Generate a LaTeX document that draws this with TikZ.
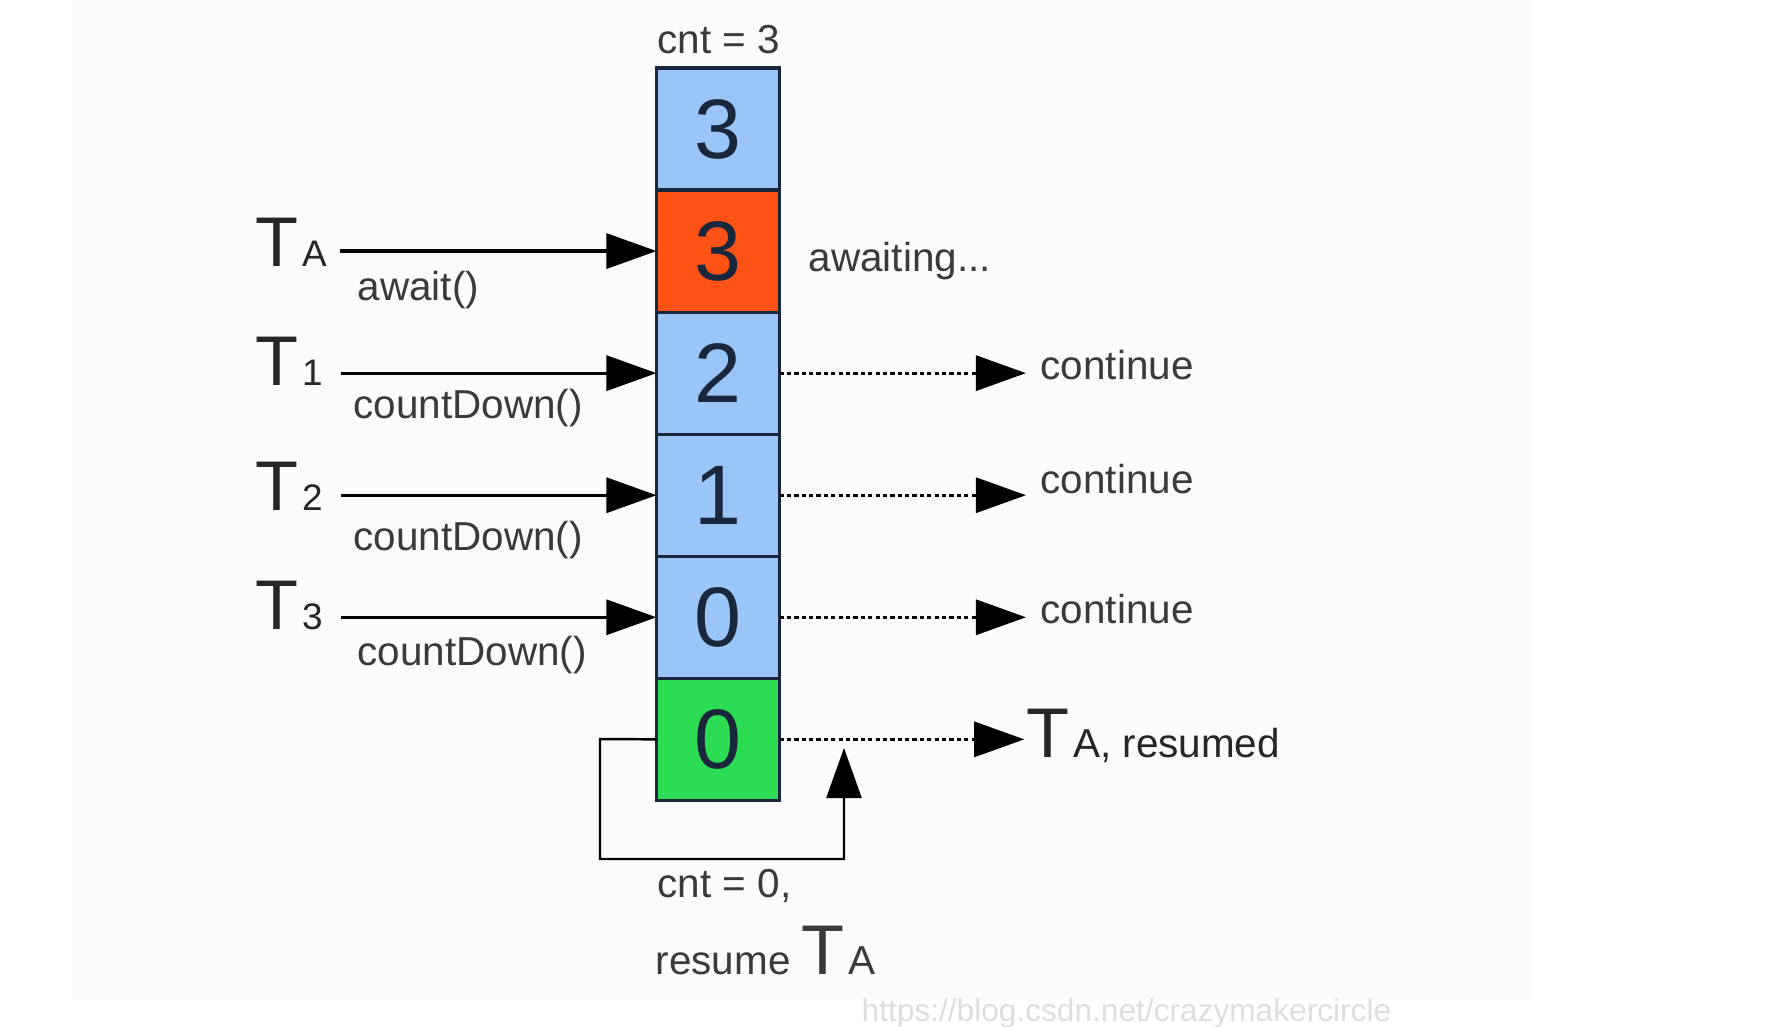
\documentclass[tikz,border=0pt]{standalone}
\usepackage{fontspec}
\setmainfont{Liberation Sans}
\usepackage{tikz}
\definecolor{cellblue}{RGB}{153,197,248}
\definecolor{cellred}{RGB}{255,82,22}
\definecolor{cellgreen}{RGB}{44,220,82}
\definecolor{txt}{RGB}{58,58,58}
\definecolor{digit}{RGB}{25,38,60}
\definecolor{mark}{RGB}{222,222,222}
\definecolor{paper}{RGB}{251,251,251}
\usetikzlibrary{arrows.meta,positioning}
\newcommand{\thr}[2][10.5]{{\fontsize{20}{20}\selectfont T}\kern1pt{\fontsize{#1}{#1}\selectfont #2}}

\begin{document}
\begin{tikzpicture}[x=0.01cm,y=-0.01cm,
        cell/.style={draw=digit,line width=0.9pt,minimum width=1.23cm,minimum height=1.22cm,
            inner sep=0pt,outer sep=0pt,text=digit,font=\fontsize{24}{24}\selectfont},
        lab/.style={anchor=base west,inner sep=0pt,text=txt,font=\fontsize{11.5}{12}\selectfont},
        arr/.style={line width=0.9pt,-{Triangle[length=5mm,width=3.5mm]}},
        dotarr/.style={arr,dash pattern=on 1.2pt off 0.9pt}]
        \useasboundingbox (0,0) rectangle (1775,1027);
        \fill[paper] (72,0) rectangle (1530,1000);

        \node[cell,fill=cellblue] (c1) at (718,129) {3};
        \node[cell,fill=cellred,below=0pt of c1] (c2) {3};
        \node[cell,fill=cellblue,below=0pt of c2] (c3) {2};
        \node[cell,fill=cellblue,below=0pt of c3] (c4) {1};
        \node[cell,fill=cellblue,below=0pt of c4] (c5) {0};
        \node[cell,fill=cellgreen,below=0pt of c5] (c6) {0};

        \node[lab,anchor=base] (cnt3) at (719,53) {cnt = 3};

        \node[lab,text=black!85] (ta) at (255,266) {\thr{A}};
        \node[lab,text=black!85] (t1) at (255,385) {\thr{1}};
        \node[lab,text=black!85] (t2) at (255,510) {\thr{2}};
        \node[lab,text=black!85] (t3) at (255,629) {\thr{3}};

        \node[lab] (aw) at (357,300) {await()};
        \node[lab] (cd1) at (353,418) {countDown()};
        \node[lab] (cd2) at (353,550) {countDown()};
        \node[lab] (cd3) at (357,665) {countDown()};

        \draw[arr,shorten <=3.5pt] (ta.east |- c2) -- (c2.west);
        \draw[arr,shorten <=5pt] (t1.east |- c3) -- (c3.west);
        \draw[arr,shorten <=5pt] (t2.east |- c4) -- (c4.west);
        \draw[arr,shorten <=5pt] (t3.east |- c5) -- (c5.west);

        \node[lab] (wait) at (808,271) {awaiting...};
        \node[lab] (go1) at (1040,379) {continue};
        \node[lab] (go2) at (1040,493) {continue};
        \node[lab] (go3) at (1040,623) {continue};
        \node[lab,text=black!85] (tres) at (1026,757) {\thr[11.5]{A, resumed}};

        \draw[dotarr,shorten >=4pt] (c3.east) -- (c3.east -| go1.west);
        \draw[dotarr,shorten >=4pt] (c4.east) -- (c4.east -| go2.west);
        \draw[dotarr,shorten >=4pt] (c5.east) -- (c5.east -| go3.west);
        \draw[dotarr,shorten >=0.5pt] (c6.east) -- (c6.east -| tres.west);

        % loop back under the last cell
        \coordinate (up) at (844,748);
        \draw[arr,line width=0.7pt] (c6.west) -- (600,739) -- (600,859) -- (844,859) -- (up);

        \node[lab] (cnt0) at (657,897) {cnt = 0,};
        \node[lab] (res) at (655,974) {resume \thr[11.5]{A}};

        \node[lab,text=mark,font=\fontsize{9}{9}\selectfont] (url) at (861,1021) {https://blog.csdn.net/crazymakercircle};
    \end{tikzpicture}
\end{document}
